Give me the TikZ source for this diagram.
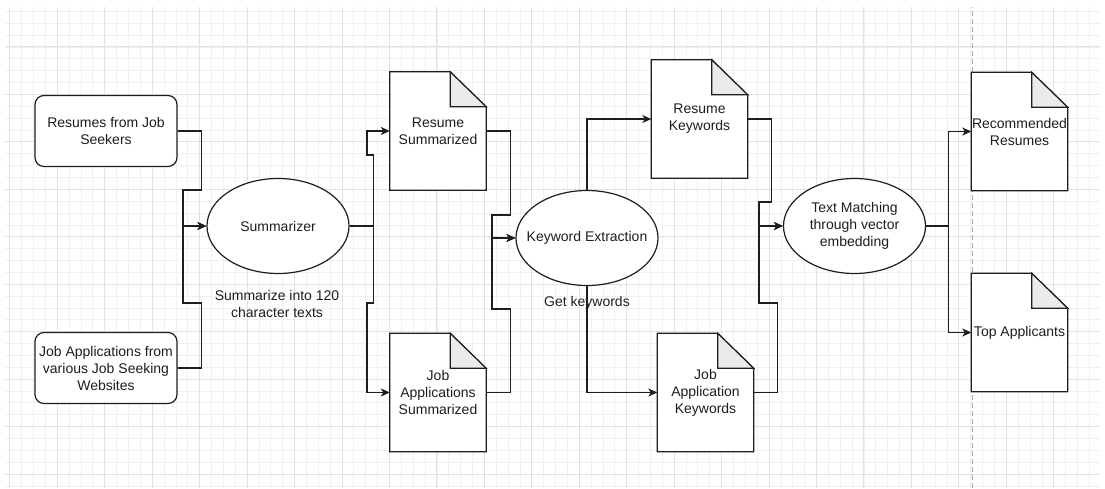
\documentclass[tikz,border=0pt]{standalone}
\usepackage{fontspec}
\setmainfont{Liberation Sans}
\usepackage{tikz}
\usetikzlibrary{positioning,
                arrows.meta,                % arrow tips
                shapes.geometric,           % ellipse nodes
                backgrounds}                % grid and pages behind the text

\definecolor{ink}{HTML}{1E1E1E}
\definecolor{gridminor}{HTML}{F0F0F0}
\definecolor{gridmajor}{HTML}{E2E2E2}
\definecolor{foldgray}{HTML}{EBEBEB}

\tikzset{
    srcbox/.style={draw=ink, line width=1.2pt, fill=white, rounded corners=9pt,
                   minimum width=142pt, minimum height=71pt, inner sep=0pt, align=center},
    proc/.style={ellipse, draw=ink, line width=1.2pt, fill=white,
                 minimum width=142pt, minimum height=95pt,
                 inner xsep=-30pt, inner ysep=-20pt, align=center},
    doc/.style={minimum width=96pt, minimum height=118pt, inner sep=0pt, align=center},
    note/.style={align=center, inner sep=0pt},
    page/.style={draw=ink, line width=1.2pt, fill=white},
    flow/.style={draw=ink, line width=1.2pt, -{Stealth[length=9pt,width=8pt,inset=2.5pt]}},
}

\begin{document}
\begin{tikzpicture}[x=1pt, y=1pt,
    every node/.style={font=\fontsize{14pt}{17pt}\selectfont, text=ink}]
    \useasboundingbox (0,0) rectangle (1105,488);

    % paper grid
    \begin{pgfonlayer}{background}
        \begin{scope}[shift={(57.3,441)}]
            \draw[gridminor, line width=0.8pt, step=11.8625pt] (-52.3,-441) grid (1042.7,40);
            \draw[gridmajor, line width=1pt, step=47.45pt] (-52.3,-441) grid (1042.7,40);
        \end{scope}
        \draw[gray!70, line width=0.9pt, dash pattern=on 5pt off 3pt] (972,0) -- (972,481);
    \end{pgfonlayer}

    % sources
    \node[srcbox] (res) at (106,357) {Resumes from Job\\Seekers};
    \node[srcbox] (job) at (106,120) {Job Applications from\\various Job Seeking\\Websites};

    % steps
    \node[proc] (summ) at (278,262) {Summarizer};
    \node[note] (sumlbl) at (277,184) {Summarize into 120\\character texts};
    \node[proc] (kw) at (587,250) {Keyword Extraction};
    \node[note] (kwlbl) at (587,185) {Get keywords};
    \node[proc] (tm) at (854.5,262) {Text Matching\\through vector\\embedding};

    % documents
    \node[doc] (rs) at (438,357) {Resume\\Summarized};
    \node[doc] (js) at (438,95.5) {Job\\Applications\\Summarized};
    \node[doc] (rk) at (699.5,369) {Resume\\Keywords};
    \node[doc] (jk) at (705.5,95.5) {Job\\Application\\Keywords};
    \node[doc] (rec) at (1019.5,356.5) {Recommended\\Resumes};
    \node[doc] (top) at (1019.5,155.5) {Top Applicants};

    % page outline with folded corner
    \begin{pgfonlayer}{background}
        \foreach \p in {rs,js,rk,jk,rec,top}{
            \draw[page] (\p.north west) -- ([xshift=-36pt]\p.north east)
                -- ([yshift=-35pt]\p.north east) -- (\p.south east) -- (\p.south west) -- cycle;
            \draw[page, fill=foldgray] ([xshift=-36pt]\p.north east)
                |- ([yshift=-35pt]\p.north east) -- cycle;
        }
    \end{pgfonlayer}

    % connectors
    \draw[flow] (res.east) -- ++(24,0) |- (183,298) |- (summ.west);
    \draw[flow] (job.east) -- ++(24,0) |- (183,185) |- (summ.west);
    \draw[flow] (summ.east) -- ++(24,0) |- (367,333) |- (rs.west);
    \draw[flow] (summ.east) -- ++(24,0) |- (367,185) |- (js.west);
    \draw[flow] (rs.east) -- ++(24,0) |- (492,273) |- (kw.west);
    \draw[flow] (js.east) -- ++(24,0) |- (492,179) |- (kw.west);
    \draw[flow] (kw.north) |- (rk.west);
    \draw[flow] (kw.south) |- (jk.west);
    \draw[flow] (rk.east) -- ++(24,0) |- (759,286) |- (tm.west);
    \draw[flow] (jk.east) -- ++(24,0) |- (759,185) |- (tm.west);
    \draw[flow] (tm.east) -- ++(22,0) |- (rec.west);
    \draw[flow] (tm.east) -- ++(22,0) |- (top.west);
\end{tikzpicture}
\end{document}
